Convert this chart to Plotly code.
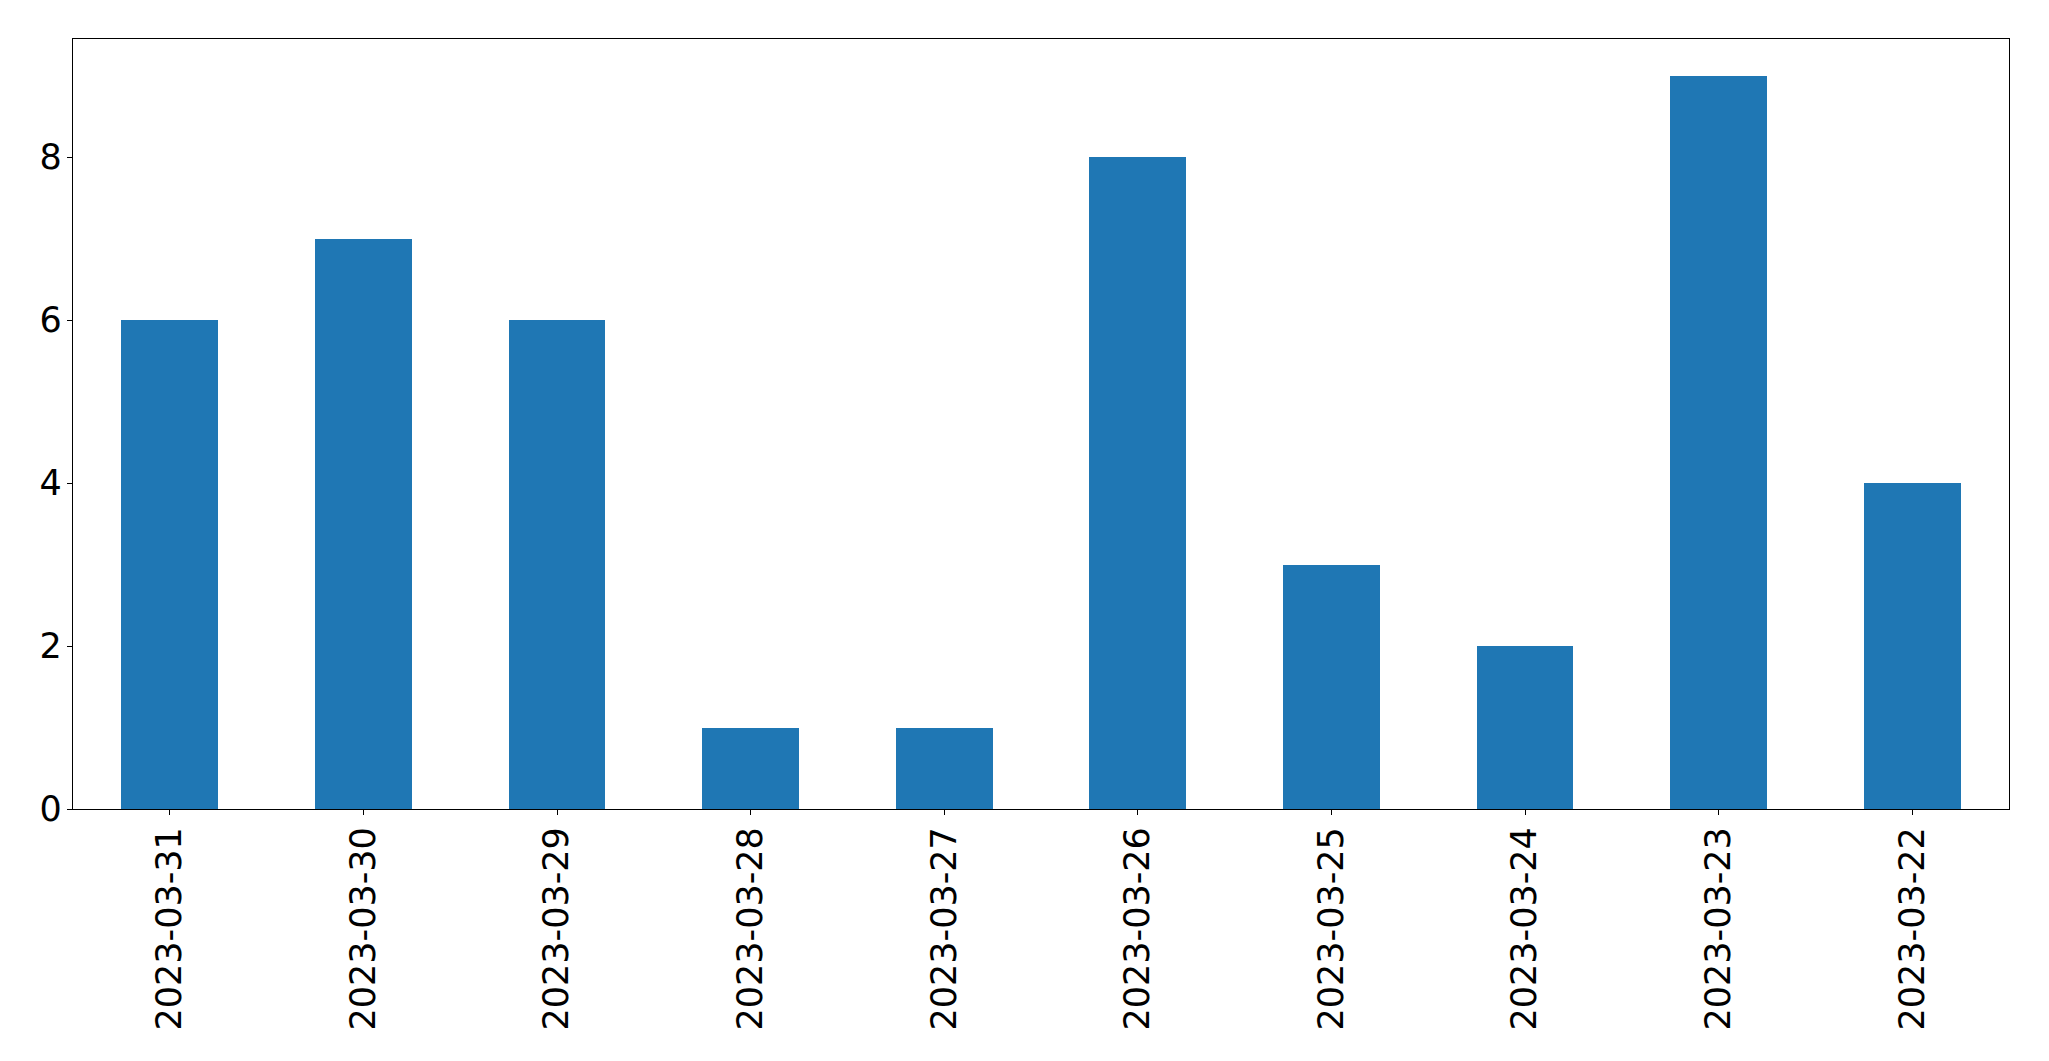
import plotly.graph_objects as go

dates = ["2023-03-31", "2023-03-30", "2023-03-29", "2023-03-28", "2023-03-27",
         "2023-03-26", "2023-03-25", "2023-03-24", "2023-03-23", "2023-03-22"]
counts = [6, 7, 6, 1, 1, 8, 3, 2, 9, 4]
y_ticks = [0, 2, 4, 6, 8]

fig = go.Figure(go.Bar(x=dates, y=counts, marker=dict(color="#1f77b4", line=dict(width=0)), width=0.5))

# page body has an 8px margin in the browser
OFF = 8
W, H = 2049 - OFF, 1061 - OFF
left, right, top, bottom = 72.5 - OFF, 2009.3 - OFF, 39.3 - OFF, 809 - OFF
fig.update_layout(
    width=W, height=H,
    margin=dict(l=left, r=W - right, t=top, b=H - bottom, pad=0, autoexpand=False),
    paper_bgcolor="white", plot_bgcolor="white",
    font=dict(family="DejaVu Sans", size=35, color="black"),
    showlegend=False,
    bargap=0,
)
fig.update_xaxes(type="category", range=[-0.5, 9.5], showline=True, linecolor="black", linewidth=1.3,
                 mirror=True, ticks="outside", ticklen=5, tickwidth=1.3, tickcolor="black",
                 tickangle=-90, showgrid=False, zeroline=False, ticklabelstandoff=-2, automargin=False)
fig.update_yaxes(range=[0, 9.45], tickvals=y_ticks, showline=True, linecolor="black", linewidth=1.3,
                 mirror=True, ticks="outside", ticklen=5, tickwidth=1.3, tickcolor="black",
                 showgrid=False, zeroline=False, ticklabelstandoff=-2, automargin=False)

fig.write_html("out.html")
